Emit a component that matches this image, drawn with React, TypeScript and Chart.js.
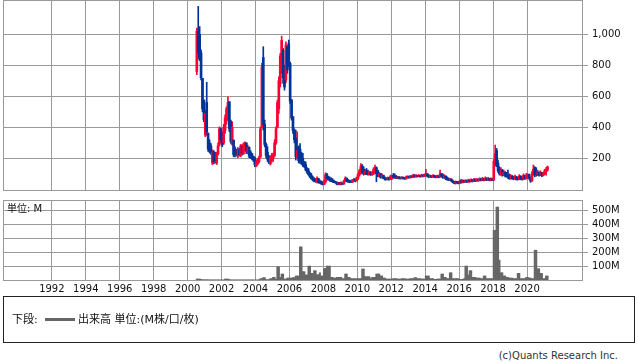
import React, { useEffect, useRef } from 'react';
import { Chart, registerables } from 'chart.js';

Chart.register(...registerables);

// ---- axis ranges / ticks ----
const X_MIN = 1989.12;
const X_MAX = 2023.24;
const yearTicks = [1992, 1994, 1996, 1998, 2000, 2002, 2004, 2006, 2008, 2010, 2012, 2014, 2016, 2018, 2020];
const priceTicks = [200, 400, 600, 800, 1000];
const volumeTicks = [100, 200, 300, 400, 500];
const PRICE_MIN = -4;
const PRICE_MAX = 1221;
const VOL_MAX = 575;

// ---- monthly series, starting July 2000 ----
const firstYear = 2000;
const firstMonth = 6; // 0-based: July

// [open, high, low, close]
const ohlc: number[][] = [
  // 2000 Jul-Dec
  [760, 1040, 740, 1020], [1020, 1180, 840, 880], [1000, 1050, 830, 850], [880, 900, 705, 720], [716, 716, 500, 520], [576, 576, 436, 450],
  // 2001
  [350, 510, 340, 490], [560, 690, 350, 370], [360, 365, 245, 260], [300, 320, 235, 245], [280, 296, 225, 235], [170, 255, 160, 240],
  [240, 250, 165, 180], [220, 240, 170, 185], [170, 240, 160, 230], [230, 300, 220, 280], [290, 403, 280, 390], [390, 395, 300, 320],
  // 2002
  [360, 371, 275, 290], [300, 420, 290, 400], [380, 480, 361, 460], [440, 533, 420, 520], [480, 597, 450, 560], [565, 565, 372, 390],
  [440, 447, 297, 310], [290, 436, 286, 400], [318, 318, 210, 225], [260, 275, 210, 225], [250, 260, 215, 230], [215, 270, 205, 255],
  // 2003
  [255, 265, 215, 225], [220, 290, 210, 280], [280, 285, 220, 235], [230, 300, 225, 290], [260, 307, 250, 300], [300, 300, 230, 245],
  [240, 285, 230, 270], [270, 275, 205, 215], [240, 250, 200, 210], [230, 232, 190, 200], [210, 215, 180, 190], [200, 210, 146, 160],
  // 2004
  [150, 190, 146, 180], [165, 200, 157, 190], [180, 215, 170, 205], [210, 403, 205, 390], [400, 812, 395, 790], [850, 920, 382, 420],
  [420, 447, 275, 290], [290, 300, 205, 220], [240, 275, 180, 195], [210, 220, 165, 175], [165, 215, 157, 205], [190, 232, 175, 220],
  // 2005
  [200, 235, 180, 225], [220, 320, 210, 300], [300, 403, 290, 390], [403, 576, 395, 560], [520, 726, 490, 700], [683, 877, 660, 860],
  [760, 988, 748, 960], [898, 910, 683, 720], [790, 801, 640, 660], [705, 952, 690, 930], [920, 925, 748, 770], [940, 963, 791, 820],
  // 2006
  [812, 820, 554, 570], [576, 580, 447, 460], [468, 470, 361, 380], [382, 390, 300, 320], [330, 382, 189, 210], [210, 371, 200, 253],
  [275, 280, 170, 185], [260, 296, 167, 180], [230, 240, 160, 170], [200, 232, 146, 155], [170, 180, 140, 150], [160, 178, 120, 125],
  // 2007
  [130, 140, 103, 110], [120, 135, 90, 95], [100, 110, 75, 80], [90, 103, 65, 70], [75, 85, 55, 60], [65, 75, 49, 52],
  [60, 70, 45, 50], [48, 81, 42, 70], [70, 72, 40, 45], [50, 60, 38, 42], [45, 55, 32, 36], [40, 50, 28, 32],
  // 2008
  [32, 60, 30, 55], [50, 107, 40, 95], [95, 103, 60, 70], [75, 85, 60, 65], [70, 81, 52, 58], [62, 75, 50, 55],
  [58, 70, 45, 50], [55, 60, 43, 46], [48, 52, 40, 42], [44, 49, 30, 34], [32, 45, 28, 40], [42, 45, 30, 33],
  // 2009
  [33, 48, 28, 40], [40, 44, 30, 34], [34, 60, 33, 55], [55, 81, 50, 72], [72, 74, 48, 55], [58, 64, 45, 50],
  [52, 60, 43, 47], [50, 58, 44, 48], [46, 64, 44, 60], [55, 71, 50, 65], [65, 68, 48, 55], [55, 80, 53, 75],
  // 2010
  [70, 103, 62, 95], [95, 130, 85, 120], [110, 167, 100, 150], [150, 160, 100, 110], [130, 146, 92, 100], [100, 130, 95, 120],
  [120, 135, 95, 100], [110, 125, 92, 97], [95, 118, 92, 110], [110, 115, 90, 95], [95, 115, 90, 110], [100, 140, 95, 130],
  // 2011
  [120, 156, 110, 140], [140, 145, 49, 100], [120, 124, 81, 90], [85, 110, 80, 100], [100, 103, 72, 78], [78, 100, 72, 90],
  [90, 92, 68, 72], [75, 81, 60, 65], [70, 75, 60, 63], [63, 80, 60, 75], [75, 78, 60, 65], [65, 92, 62, 85],
  // 2012
  [70, 92, 65, 88], [90, 103, 72, 78], [85, 100, 72, 75], [80, 90, 70, 72], [72, 85, 68, 80], [80, 82, 68, 70],
  [75, 80, 66, 70], [70, 82, 68, 78], [78, 80, 66, 70], [72, 78, 65, 68], [68, 85, 66, 80], [75, 88, 72, 84],
  // 2013
  [84, 86, 72, 75], [75, 90, 72, 86], [86, 88, 76, 80], [78, 98, 76, 92], [92, 95, 78, 82], [80, 96, 78, 90],
  [90, 92, 80, 84], [82, 95, 80, 90], [90, 92, 78, 82], [82, 98, 80, 92], [92, 95, 80, 85], [84, 100, 82, 95],
  // 2014
  [92, 129, 90, 100], [100, 102, 80, 85], [88, 95, 76, 80], [80, 92, 76, 88], [88, 90, 76, 80], [80, 95, 78, 90],
  [90, 92, 76, 80], [82, 88, 74, 78], [78, 92, 76, 88], [88, 90, 74, 78], [80, 124, 78, 100], [100, 103, 80, 85],
  // 2015
  [90, 100, 70, 75], [75, 95, 72, 85], [85, 88, 62, 68], [70, 81, 60, 65], [66, 75, 56, 60], [60, 72, 58, 68],
  [66, 68, 50, 55], [56, 60, 42, 45], [48, 52, 36, 40], [40, 55, 34, 50], [50, 52, 38, 42], [45, 50, 35, 40],
  // 2016
  [40, 60, 38, 55], [55, 64, 40, 45], [45, 62, 42, 58], [58, 60, 44, 48], [48, 62, 46, 58], [58, 60, 44, 48],
  [48, 66, 46, 60], [60, 62, 46, 50], [50, 68, 48, 62], [62, 64, 48, 52], [52, 71, 50, 65], [65, 68, 50, 55],
  // 2017
  [55, 70, 52, 65], [65, 68, 52, 56], [56, 75, 54, 68], [68, 70, 55, 58], [58, 78, 56, 70], [70, 72, 55, 60],
  [60, 81, 58, 72], [72, 74, 56, 60], [60, 78, 58, 70], [70, 72, 55, 58], [58, 75, 56, 68], [68, 70, 56, 60],
  // 2018
  [60, 193, 58, 180], [180, 286, 150, 230], [250, 264, 146, 160], [170, 189, 110, 120], [130, 146, 92, 100], [95, 140, 90, 120],
  [120, 130, 85, 95], [92, 125, 88, 110], [110, 115, 80, 90], [95, 110, 78, 85], [90, 124, 70, 80], [85, 100, 64, 70],
  // 2019
  [70, 95, 66, 85], [85, 90, 65, 70], [75, 85, 62, 68], [68, 92, 64, 80], [80, 85, 60, 65], [68, 80, 60, 64],
  [64, 95, 62, 85], [85, 88, 62, 68], [70, 80, 60, 65], [65, 100, 62, 90], [90, 92, 64, 70], [70, 103, 66, 90],
  // 2020
  [85, 100, 70, 95], [95, 98, 65, 75], [75, 81, 45, 55], [55, 114, 52, 100], [95, 157, 90, 130], [140, 146, 81, 95],
  [110, 140, 85, 95], [95, 125, 88, 110], [110, 114, 85, 92], [92, 120, 88, 105], [105, 110, 82, 90], [90, 112, 86, 100],
  // 2021 Jan-Mar
  [100, 130, 95, 120], [115, 141, 92, 130], [125, 150, 118, 145],
];

// monthly volume, millions
const volume: number[] = [
  7, 7, 7, 5, 2, 2,
  2, 2, 2, 1, 1, 1, 1, 1, 1, 1, 1, 1,
  1, 1, 7, 7, 7, 4, 1, 1, 1, 1, 1, 1,
  1, 1, 1, 1, 1, 1, 1, 1, 1, 1, 1, 1,
  1, 1, 2, 10, 10, 17, 17, 3, 3, 3, 10, 10,
  19, 19, 5, 95, 95, 19, 43, 43, 7, 7, 14, 14,
  14, 14, 17, 17, 29, 29, 29, 238, 238, 60, 60, 36,
  36, 100, 100, 48, 48, 67, 67, 38, 38, 52, 29, 29,
  83, 83, 100, 100, 100, 19, 19, 14, 14, 19, 19, 19,
  19, 10, 10, 43, 43, 19, 19, 10, 10, 10, 10, 10,
  10, 10, 10, 79, 79, 24, 24, 24, 24, 10, 19, 19,
  19, 43, 43, 43, 29, 29, 14, 14, 7, 7, 7, 7,
  7, 10, 10, 10, 7, 7, 7, 10, 10, 10, 7, 7,
  7, 10, 10, 10, 17, 17, 10, 10, 10, 7, 7, 7,
  29, 29, 29, 10, 10, 10, 5, 5, 7, 7, 7, 43,
  43, 19, 19, 10, 10, 52, 52, 10, 10, 10, 10, 10,
  5, 5, 5, 10, 100, 100, 36, 67, 67, 19, 19, 19,
  14, 14, 14, 10, 10, 29, 29, 10, 10, 10, 10, 10,
  357, 357, 524, 524, 143, 52, 52, 29, 29, 19, 19, 14,
  14, 14, 10, 10, 10, 48, 48, 10, 10, 10, 10, 19,
  19, 14, 14, 10, 10, 214, 214, 81, 81, 48, 48, 10,
  10, 29, 29,
];

const RED = '#ff0033';
const BLUE = '#003399';
const VOL_COLOR = '#666666';
const GRID = '#999999';
const FONT = "'DejaVu Sans', 'Noto Sans CJK JP', sans-serif";

const monthX = (i: number) => firstYear + (firstMonth + i + 0.5) / 12;

const framePlugin = {
  id: 'frame',
  beforeDatasetsDraw(chart: any) {
    const { ctx, chartArea: a } = chart;
    ctx.save();
    ctx.strokeStyle = GRID;
    ctx.lineWidth = 1;
    ctx.strokeRect(a.left + 0.5, a.top + 0.5, a.right - a.left, a.bottom - a.top);
    ctx.restore();
  },
};

function xScale(showLabels: boolean) {
  return {
    type: 'linear' as const,
    min: X_MIN,
    max: X_MAX,
    offset: false,
    afterBuildTicks: (s: any) => {
      s.ticks = yearTicks.map((v) => ({ value: v }));
    },
    afterFit: (s: any) => {
      s.height = showLabels ? 16 : 0;
      s.paddingLeft = 0;
      s.paddingRight = 0;
    },
    grid: { color: GRID, lineWidth: 1, drawTicks: false, offset: false },
    border: { display: false },
    ticks: {
      display: showLabels,
      padding: 3,
      maxRotation: 0,
      autoSkip: false,
      color: '#111',
      font: { family: FONT, size: 10 },
      callback: (v: any) => String(v),
    },
  };
}

function yScale(min: number, max: number, ticks: number[], fmt: (v: number) => string) {
  return {
    type: 'linear' as const,
    position: 'right' as const,
    min,
    max,
    afterBuildTicks: (s: any) => {
      s.ticks = ticks.map((v) => ({ value: v }));
    },
    afterFit: (s: any) => {
      s.width = 56;
      s.paddingTop = 0;
      s.paddingBottom = 0;
    },
    grid: { color: GRID, lineWidth: 1, drawTicks: true, tickLength: 6 },
    border: { display: false },
    ticks: {
      padding: 4,
      autoSkip: false,
      color: '#111',
      font: { family: FONT, size: 10 },
      callback: (v: any) => fmt(Number(v)),
    },
  };
}

export default function App() {
  const priceRef = useRef<HTMLCanvasElement>(null);
  const volRef = useRef<HTMLCanvasElement>(null);

  useEffect(() => {
    const colors = ohlc.map((c) => (c[3] >= c[0] ? RED : BLUE));
    const wicks = ohlc.map((c, i) => ({ x: monthX(i), y: [c[2], c[1]] }));
    const bodies = ohlc.map((c, i) => ({
      x: monthX(i),
      y: [Math.min(c[0], c[3]), Math.max(c[0], c[3])],
    }));

    const priceChart = new Chart(priceRef.current!, {
      type: 'bar',
      data: {
        datasets: [
          {
            data: bodies as any,
            backgroundColor: colors,
            borderWidth: 0,
            barThickness: 2,
            grouped: false,
          } as any,
          {
            data: wicks as any,
            backgroundColor: colors,
            borderWidth: 0,
            barThickness: 1,
            grouped: false,
          } as any,
        ],
      },
      options: {
        animation: false,
        responsive: false,
        events: [],
        layout: { padding: { left: 3, top: 0, right: 0, bottom: 1 } },
        plugins: { legend: { display: false }, tooltip: { enabled: false } },
        scales: {
          x: xScale(false) as any,
          y: yScale(PRICE_MIN, PRICE_MAX, priceTicks, (v) => v.toLocaleString('en-US')) as any,
        },
      },
      plugins: [framePlugin],
    });

    const volData = volume.map((v, i) => ({ x: monthX(i), y: v }));
    const volChart = new Chart(volRef.current!, {
      type: 'bar',
      data: {
        datasets: [
          {
            data: volData as any,
            backgroundColor: VOL_COLOR,
            borderWidth: 0,
            barPercentage: 1,
            categoryPercentage: 1,
            grouped: false,
          } as any,
        ],
      },
      options: {
        animation: false,
        responsive: false,
        events: [],
        layout: { padding: { left: 3, top: 10, right: 0, bottom: 0 } },
        plugins: { legend: { display: false }, tooltip: { enabled: false } },
        scales: {
          x: xScale(true) as any,
          y: yScale(0, VOL_MAX, volumeTicks, (v) => `${v}M`) as any,
        },
      },
      plugins: [framePlugin],
    });

    return () => {
      priceChart.destroy();
      volChart.destroy();
    };
  }, []);

  return (
    <div
      style={{
        position: 'absolute',
        left: 0,
        top: 0,
        width: 638,
        height: 362,
        background: '#fff',
        fontFamily: FONT,
        color: '#111',
        overflow: 'hidden',
      }}
    >
      <canvas ref={priceRef} width={638} height={191} style={{ position: 'absolute', left: 0, top: 0 }} />
      <canvas ref={volRef} width={638} height={106} style={{ position: 'absolute', left: 0, top: 190 }} />
      <div style={{ position: 'absolute', left: 7, top: 203, fontSize: 10, lineHeight: '12px', color: '#111' }}>
        単位: M
      </div>
      <div
        style={{
          position: 'absolute',
          left: 3,
          top: 296,
          width: 632,
          height: 47,
          border: '1px solid #222',
          boxSizing: 'border-box',
        }}
      >
        <span style={{ position: 'absolute', left: 8, top: 16, fontSize: 11, lineHeight: '13px', whiteSpace: 'nowrap' }}>
          下段:
        </span>
        <span style={{ position: 'absolute', left: 41, top: 21, width: 30, height: 3, background: VOL_COLOR }} />
        <span style={{ position: 'absolute', left: 74, top: 16, fontSize: 11, lineHeight: '13px', whiteSpace: 'nowrap' }}>
          出来高 単位:(M株/口/枚)
        </span>
      </div>
      <div
        style={{
          position: 'absolute',
          right: 20,
          top: 350,
          fontSize: 10,
          lineHeight: '12px',
          color: '#333',
          whiteSpace: 'nowrap',
        }}
      >
        (c)Quants Research Inc.
      </div>
    </div>
  );
}
